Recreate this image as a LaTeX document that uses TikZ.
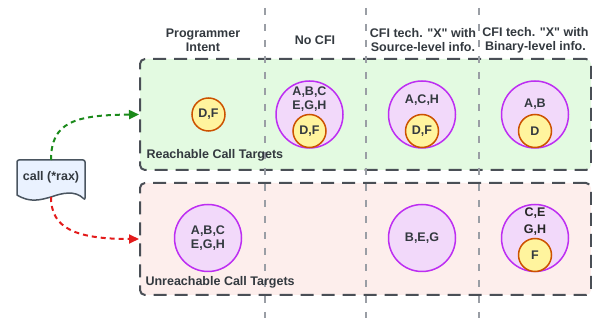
\documentclass[tikz,border=0pt]{standalone}
\usepackage{fontspec}
\setmainfont{Liberation Sans}[Ligatures=TeXOff]
\usetikzlibrary{arrows.meta}
\definecolor{txt}{HTML}{33393F}
\definecolor{greenbg}{HTML}{E3FAE1}
\definecolor{pinkbg}{HTML}{FDEEEC}
\definecolor{boxline}{HTML}{4A4F56}
\definecolor{vline}{HTML}{9A9EA5}
\definecolor{purfill}{HTML}{F2D9FA}
\definecolor{purline}{HTML}{BD2EF2}
\definecolor{yelfill}{HTML}{FFF49E}
\definecolor{yelline}{HTML}{CC5200}
\definecolor{docfill}{HTML}{EAF2FF}
\definecolor{docline}{HTML}{4A5560}
\definecolor{garrow}{HTML}{1B8A1B}
\definecolor{rarrow}{HTML}{E31B1B}
\begin{document}
\begin{tikzpicture}[x=1pt,y=-1pt,
  every node/.style={font=\fontsize{12.5}{14}\selectfont\bfseries, text=txt, align=center},
  regionbox/.style={draw=boxline, line width=2pt, dash pattern=on 13pt off 8pt, rounded corners=5pt, inner sep=0pt},
  colsep/.style={draw=vline, line width=1.5pt, dash pattern=on 7pt off 9pt},
  bigset/.style={circle, draw=purline, fill=purfill, line width=1.5pt, minimum size=67pt, inner sep=0pt},
  smallset/.style={circle, draw=yelline, fill=yelfill, line width=1.5pt, minimum size=33pt, inner sep=0pt},
  flowarrow/.style={line width=2pt, dash pattern=on 5pt off 4pt, -{Triangle[length=10pt,width=9pt]}},
  header/.style={text=txt},
  lbl/.style={anchor=west}
]
\useasboundingbox (0,0) rectangle (592,320);

% region boxes
\node[regionbox, fill=greenbg, minimum width=451pt, minimum height=111pt] (reach) at (365.5,114.5) {};
\node[regionbox, fill=pinkbg, minimum width=451pt, minimum height=112pt] (unreach) at (365.5,239) {};

% column separators
\coordinate (s1t) at (265,8); \coordinate (s1b) at (265,318);
\coordinate (s2t) at (366,8); \coordinate (s2b) at (366,318);
\coordinate (s3t) at (479,8); \coordinate (s3b) at (479,318);
\draw[colsep] (s1t) -- (s1b);
\draw[colsep] (s2t) -- (s2b);
\draw[colsep] (s3t) -- (s3b);

% headers
\node[header] (h1) at (203,40) {Programmer\\Intent};
\node[header] (h2) at (315,40) {No CFI};
\node[header] (h3) at (423,40) {CFI tech. "X" with\\Source-level info.};
\node[header] (h4) at (535.5,40) {CFI tech. "X" with\\Binary-level info.};

% region labels
\node[lbl] (rl) at (143,155.5) {Reachable Call Targets};
\node[lbl] (ul) at (142,282.5) {Unreachable Call Targets};

% reachable row
\node[smallset] (pDF) at (208.5,114.5) {D,F};

\node[bigset] (nBig) at (309.5,114.5) {};
\node (nTxt) at (309.5,99.5) {A,B,C\\E,G,H};
\node[smallset] (nDF) at (309.5,131) {D,F};

\node[bigset] (sBig) at (422,114.5) {};
\node (sTxt) at (422,100) {A,C,H};
\node[smallset] (sDF) at (422,131) {D,F};

\node[bigset] (bBig) at (535,114.5) {};
\node (bTxt) at (535,104) {A,B};
\node[smallset] (bD) at (535,131) {D};

% unreachable row
\node[bigset] (pU) at (208,238) {A,B,C\\E,G,H};
\node[bigset] (sU) at (422,238) {B,E,G};
\node[bigset] (bU) at (535,238) {};
\node[text=black!85] (bUt1) at (535,213) {C,E};
\node[text=black!85] (bUt2) at (535,230) {G,H};
\node[smallset] (bF) at (535,255) {F};

% call document
\draw[draw=docline, fill=docfill, line width=1.5pt, rounded corners=2pt]
  (17,195) -- (17,160) -- (85,160) -- (85,200) [sharp corners]
  .. controls (75,190) and (62,193) .. (51,197)
  .. controls (40,200) and (30,203) .. (17,195) -- cycle;
\node (doc) at (51,177) {call (*rax)};
\coordinate (docTop) at (51,160);
\coordinate (docBot) at (51,197);

% arrows
\draw[flowarrow, draw=garrow] (docTop) .. controls (51,122) and (75,115) .. (reach.west);
\draw[flowarrow, draw=rarrow] (docBot) .. controls (51,228) and (75,239) .. (unreach.west);
\end{tikzpicture}
\end{document}
